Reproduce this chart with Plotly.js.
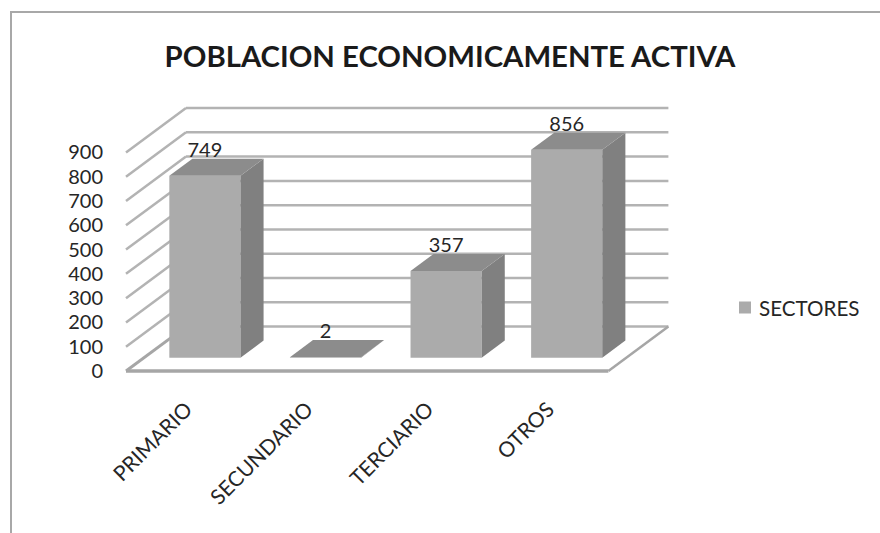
<!DOCTYPE html>
<html>
<head>
<meta charset="utf-8">
<script src="https://cdn.plot.ly/plotly-3.0.1.min.js"></script>
<style>
html,body{margin:0;padding:0;background:#fff;width:880px;height:533px;overflow:hidden}
#frame{position:absolute;left:10px;top:11px;width:870px;height:522px;border-left:2px solid #a8a8a8;border-top:2px solid #a8a8a8;box-sizing:border-box}
#chart{position:absolute;left:0;top:0;width:880px;height:533px}
</style>
</head>
<body>
<div id="frame"></div>
<div id="chart"></div>
<script>
const categories = ["PRIMARIO", "SECUNDARIO", "TERCIARIO", "OTROS"];
const values = [749, 2, 357, 856];
const seriesName = "SECTORES";
const yTicks = [0, 100, 200, 300, 400, 500, 600, 700, 800, 900];
const titleText = "POBLACION ECONOMICAMENTE ACTIVA";

// Oblique projection: depth d (0 front .. 1 back) shifts a point right and up, in axis units.
const PX_PER_CAT = 120.6, PX_PER_VAL = 0.2433;
const DEPTH_X = 60 / PX_PER_CAT, DEPTH_Y = 44.5 / PX_PER_VAL;
const BAR_W = 0.59, D_FRONT = 0.3, D_BACK = 0.685, CENTER = 0.505, LABEL_UP = 98;
const L = 126, B = 161.5, PAD = 8, PLOT_W = 554, PLOT_H = 271.5;
const px = (c, d) => c + d * DEPTH_X, py = (v, d) => v + d * DEPTH_Y;

const GRID = "#b3b3b3", FLOOR = "#a6a6a6";
const line = (c0, v0, d0, c1, v1, d1, color, width) => ({
  type: "line", layer: "below", xref: "x", yref: "y",
  x0: px(c0, d0), y0: py(v0, d0), x1: px(c1, d1), y1: py(v1, d1),
  line: {color, width}
});
const nCat = categories.length;
const shapes = [];
yTicks.forEach(t => {
  shapes.push(line(0, t, 0, 0, t, 1, t === 0 ? FLOOR : GRID, t === 0 ? 3 : 2.5));
  shapes.push(line(0, t, 1, nCat, t, 1, GRID, 2.5));
});
shapes.push(line(0, 0, 0, nCat, 0, 0, FLOOR, 3.5));
shapes.push(line(nCat, 0, 0, nCat, 0, 1, FLOOR, 2.5));

const face = (xs, ys, color) => ({
  type: "scatter", mode: "lines", x: xs, y: ys, fill: "toself", fillcolor: color,
  line: {width: 0, color}, hoverinfo: "skip", showlegend: false
});
const traces = [{
  type: "bar", name: seriesName,
  x: values.map((_, i) => px(i + CENTER, D_FRONT)),
  y: values, base: values.map(() => py(0, D_FRONT)), width: BAR_W,
  marker: {color: "#ababab", line: {width: 0}}, showlegend: true
}];
values.forEach((v, i) => {
  const l = i + CENTER - BAR_W / 2, r = i + CENTER + BAR_W / 2;
  traces.push(face(
    [px(r, D_FRONT), px(r, D_BACK), px(r, D_BACK), px(r, D_FRONT)],
    [py(0, D_FRONT), py(0, D_BACK), py(v, D_BACK), py(v, D_FRONT)], "#808080"));
  traces.push(face(
    [px(l, D_FRONT), px(r, D_FRONT), px(r, D_BACK), px(l, D_BACK)],
    [py(v, D_FRONT), py(v, D_FRONT), py(v, D_BACK), py(v, D_BACK)], "#8c8c8c"));
});
traces.push({
  type: "scatter", mode: "text", showlegend: false, hoverinfo: "skip",
  x: values.map((_, i) => px(i + CENTER, D_FRONT)),
  y: values.map(v => py(v, D_FRONT) + LABEL_UP),
  text: values.map(String), textposition: "middle center", cliponaxis: false,
  textfont: {family: "Lato, Carlito, sans-serif", size: 20, color: "#262626"}
});

const layout = {
  width: 880, height: 533, autosize: false,
  margin: {l: L - PAD, r: 880 - L - PLOT_W, t: 533 - B - PLOT_H, b: B - PAD, pad: 0},
  paper_bgcolor: "rgba(0,0,0,0)", plot_bgcolor: "rgba(0,0,0,0)",
  font: {family: "Lato, Carlito, sans-serif", color: "#262626", size: 20},
  title: {text: "<b>" + titleText + "</b>", x: 450 / 880, xanchor: "center", y: 1 - 57 / 533, yanchor: "middle",
          font: {family: "Lato, Carlito, sans-serif", size: 29.3, color: "#1a1a1a"}},
  xaxis: {range: [-PAD / PX_PER_CAT, PLOT_W / PX_PER_CAT], tickmode: "array",
          tickvals: categories.map((_, i) => i + 0.5), ticktext: categories,
          tickangle: -45, ticklabelstandoff: 13, ticks: "", showgrid: false, zeroline: false, showline: false,
          tickfont: {size: 21, color: "#262626"}},
  yaxis: {range: [-PAD / PX_PER_VAL, PLOT_H / PX_PER_VAL], tickmode: "array", tickvals: yTicks, ticktext: yTicks.map(String),
          ticklabelstandoff: 14, ticks: "", showgrid: false, zeroline: false, showline: false,
          tickfont: {size: 20, color: "#262626"}},
  shapes,
  showlegend: true,
  legend: {x: (719 - (L - PAD)) / (PLOT_W + PAD), y: 1 - (308 - (533 - B - PLOT_H)) / (PLOT_H + PAD), xanchor: "left", yanchor: "middle",
           bgcolor: "rgba(0,0,0,0)", font: {size: 20.6, color: "#262626"}, itemwidth: 30}
};
Plotly.newPlot("chart", traces, layout, {displayModeBar: false, staticPlot: true}).then(() => {
  const g = document.querySelector(".legend .legendpoints");
  if (g) g.setAttribute("transform", "translate(6,0)");
});
</script>
</body>
</html>
